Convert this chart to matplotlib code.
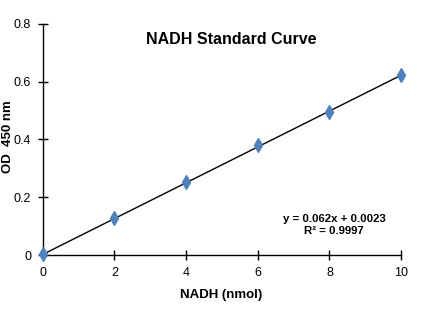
import matplotlib
matplotlib.use("Agg")
import matplotlib.pyplot as plt
import numpy as np

# NADH standard: amount (nmol) vs absorbance at 450 nm
nadh_nmol = [0, 2, 4, 6, 8, 10]
od_450 = [0.003, 0.128, 0.253, 0.381, 0.495, 0.623]

# linear trendline reported on the chart
slope = 0.062
intercept = 0.0023
r_squared = 0.9997

x_ticks = [0, 2, 4, 6, 8, 10]
y_ticks = [0, 0.2, 0.4, 0.6, 0.8]
y_tick_labels = ["0", "0.2", "0.4", "0.6", "0.8"]

plt.rcParams['font.family'] = ['Liberation Sans', 'DejaVu Sans']

fig = plt.figure(figsize=(4.24, 3.27), dpi=100)
ax = fig.add_axes([0.101, 0.220, 0.845, 0.707])

fit_x = np.array([x_ticks[0], x_ticks[-1]])
ax.plot(fit_x, slope * fit_x + intercept, color='black', linewidth=1.0, zorder=2)
ax.plot(nadh_nmol, od_450, linestyle='none', marker='d', markersize=7.5,
        color='#4F81BD', markeredgecolor='#4F81BD', zorder=3, clip_on=False)

ax.set_xlim(0, 10)
ax.set_ylim(0, 0.8)
ax.set_xticks(x_ticks)
ax.set_yticks(y_ticks)
ax.set_yticklabels(y_tick_labels)
ax.tick_params(direction='inout', length=7, width=1, labelsize=9, pad=5)
for s in ['top', 'right']:
    ax.spines[s].set_visible(False)
for s in ['left', 'bottom']:
    ax.spines[s].set_linewidth(1.0)

# axis titles and chart title
fig.text(221 / 424, 1 - 295 / 327, 'NADH (nmol)', ha='center', va='center',
         fontsize=9.5, fontweight='bold')
fig.text(8 / 424, 1 - 137 / 327, 'OD  450 nm', ha='center', va='center',
         rotation=90, fontsize=9.5, fontweight='bold')
fig.text(231 / 424, 1 - 39 / 327, 'NADH Standard Curve', ha='center', va='center',
         fontsize=11.5, fontweight='bold')

ax.text(8.13, 0.104, f'y = {slope}x + {intercept}\nR² = {r_squared}',
        ha='center', va='center', fontsize=8.2, fontweight='bold', linespacing=1.35)

fig.savefig('out.png', dpi=100)
